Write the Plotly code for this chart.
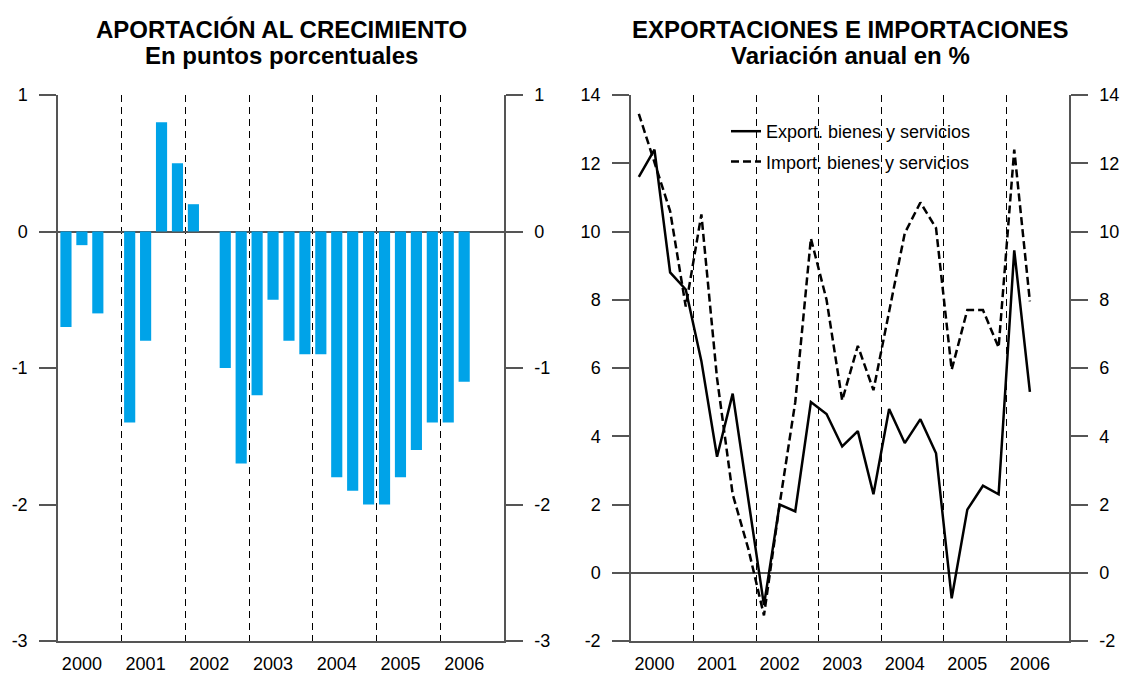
import plotly.graph_objects as go

# quarterly data, 2000-T1 .. 2006-T2
years = [2000, 2001, 2002, 2003, 2004, 2005, 2006]

aportacion = [-0.7, -0.1, -0.6, None, -1.4, -0.8, 0.8, 0.5,
              0.2, None, -1.0, -1.7, -1.2, -0.5, -0.8, -0.9,
              -0.9, -1.8, -1.9, -2.0, -2.0, -1.8, -1.6, -1.4,
              -1.4, -1.1]

export = [11.6, 12.4, 8.8, 8.3, 6.2, 3.4, 5.25, 2.1,
          -0.95, 2.0, 1.8, 5.0, 4.65, 3.7, 4.15, 2.3,
          4.8, 3.8, 4.5, 3.5, -0.75, 1.85, 2.55, 2.3,
          9.45, 5.3]

imports = [13.45, 12.0, 10.6, 7.8, 10.5, 5.7, 2.3, 0.7,
           -1.25, 2.0, 5.0, 9.8, 8.0, 5.05, 6.65, 5.35,
           7.7, 9.95, 10.85, 10.1, 5.95, 7.7, 7.7, 6.6,
           12.4, 7.95]

left_ticks = [-3, -2, -1, 0, 1]
right_ticks = [-2, 0, 2, 4, 6, 8, 10, 12, 14]

W, H = 1121, 675
FONT = "Arial, Liberation Sans, sans-serif"
AXIS = "#555555"
BAR = "#00A3E8"

n_q = len(years) * 4
xq = list(range(len(export)))
year_ticks = [4 * i + 1 for i in range(len(years))]


def px_x(a, b):
    return [a / W, b / W]


def px_y(top, bottom):
    return [1 - bottom / H, 1 - top / H]


def x_axis(domain, anchor):
    return dict(
        domain=domain, anchor=anchor, range=[-0.5, n_q - 0.5],
        tickmode="array", tickvals=year_ticks, ticktext=[str(y) for y in years],
        ticks="", showgrid=False, zeroline=False,
        showline=True, linecolor=AXIS, linewidth=1.5,
        tickfont=dict(size=18, color="black"), ticklabelstandoff=6,
        minor=dict(tick0=-0.5, dtick=4, showgrid=True, gridcolor="black",
                   gridwidth=1, griddash="7px,5px", ticks=""),
    )


def y_axis(ticks, side, anchor, overlaying=None):
    d = dict(
        range=[ticks[0], ticks[-1]], side=side, anchor=anchor,
        tickmode="array", tickvals=ticks, ticktext=[str(t) for t in ticks],
        ticks="outside", ticklen=17, tickwidth=1.5, tickcolor=AXIS,
        ticklabelstandoff=8,
        showline=True, linecolor=AXIS, linewidth=1.5,
        showgrid=False, zeroline=True, zerolinecolor=AXIS, zerolinewidth=1.5,
        tickfont=dict(size=18, color="black"), automargin=False,
    )
    if overlaying:
        d["overlaying"] = overlaying
        d["zeroline"] = False
    return d


fig = go.Figure()

fig.add_trace(go.Bar(
    x=xq, y=aportacion, marker_color=BAR, marker_line_width=0,
    width=0.7, showlegend=False, hoverinfo="y", xaxis="x", yaxis="y",
))
# transparent copy so the right-hand axis of the left panel gets drawn
fig.add_trace(go.Scatter(
    x=xq, y=aportacion, mode="markers", marker=dict(opacity=0),
    showlegend=False, hoverinfo="skip", xaxis="x", yaxis="y2",
))
fig.add_trace(go.Scatter(
    x=xq, y=export, mode="lines", name="Export. bienes y servicios",
    line=dict(color="black", width=2.5), legendgroup="e",
    xaxis="x2", yaxis="y3",
))
fig.add_trace(go.Scatter(
    x=xq, y=imports, mode="lines", name="Import. bienes y servicios",
    line=dict(color="black", width=2.5, dash="8px,4px"), legendgroup="i",
    xaxis="x2", yaxis="y4",
))

dom_y = px_y(95, 641)
fig.update_layout(
    width=W, height=H,
    margin=dict(l=0, r=0, t=0, b=0),
    paper_bgcolor="white", plot_bgcolor="rgba(0,0,0,0)",
    font=dict(family=FONT, color="black"),
    xaxis=x_axis(px_x(58, 504), "y"),
    yaxis=y_axis(left_ticks, "left", "x"),
    yaxis2=y_axis(left_ticks, "right", "x", overlaying="y"),
    xaxis2=x_axis(px_x(631, 1069), "y3"),
    yaxis3=y_axis(right_ticks, "left", "x2"),
    yaxis4=y_axis(right_ticks, "right", "x2", overlaying="y3"),
    showlegend=True,
    legend=dict(x=726 / W, y=1 - 113 / H, xanchor="left", yanchor="top",
                bgcolor="rgba(0,0,0,0)", font=dict(size=18),
                tracegroupgap=4, itemclick=False),
)
fig.update_layout(yaxis=dict(domain=dom_y), yaxis3=dict(domain=dom_y))

titles = [
    ("APORTACIÓN AL CRECIMIENTO", "En puntos porcentuales", (58 + 504) / 2),
    ("EXPORTACIONES E IMPORTACIONES", "Variación anual en %", (631 + 1069) / 2),
]
for t1, t2, cx in titles:
    for txt, ty in ((t1, 30), (t2, 56)):
        fig.add_annotation(
            text=f"<b>{txt}</b>", x=cx / W, y=1 - ty / H,
            xref="paper", yref="paper", showarrow=False,
            xanchor="center", yanchor="middle", font=dict(size=24, color="black"),
        )

fig.write_html("out.html", config={"displayModeBar": False},
               post_script="document.body.style.margin='0';")
